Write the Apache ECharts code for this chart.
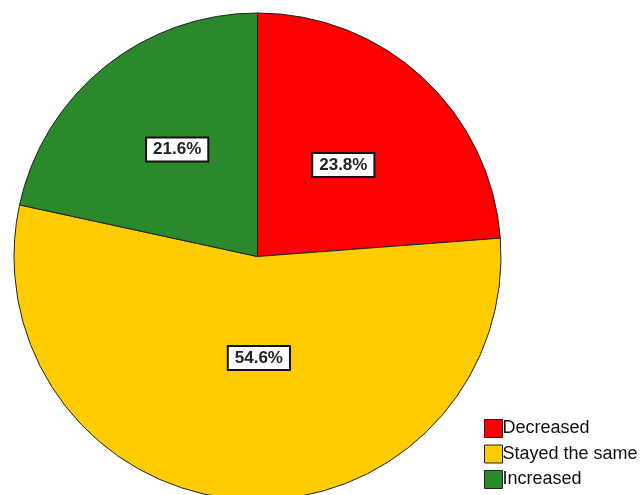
<!DOCTYPE html>
<html><head><meta charset="utf-8">
<script src="https://cdn.jsdelivr.net/npm/echarts@6/dist/echarts.min.js"></script>
<style>html,body{margin:0;padding:0;background:#fff}#c{width:641px;height:495px}</style>
</head><body><div id="c"></div>
<script>
const categories = ['Decreased', 'Stayed the same', 'Increased'];
const values = [23.8, 54.6, 21.6];
const colors = ['#ff0000', '#ffcc00', '#2a892a'];
const labelOffsets = [[1, 0], [10, -23], [-2, -10]];

const chart = echarts.init(document.getElementById('c'), null, {renderer: 'canvas'});
chart.setOption({
  animation: false,
  legend: {
    orient: 'vertical', left: 479, top: 414,
    itemWidth: 18, itemHeight: 18, itemGap: 6.5,
    icon: 'rect',
    textStyle: {fontFamily: 'Liberation Sans, Arial', fontSize: 18, color: '#111', padding: [0, 0, 0, -5]},
    itemStyle: {borderColor: '#222', borderWidth: 1},
    data: categories
  },
  series: [{
    type: 'pie',
    center: [257.5, 256.5],
    radius: 243.5,
    startAngle: 90,
    clockwise: true,
    label: {
      position: 'inside',
      formatter: p => p.value.toFixed(1) + '%',
      fontFamily: 'Liberation Sans, Arial', fontSize: 17, fontWeight: 'bold', color: '#222',
      backgroundColor: '#fff', borderColor: '#111', borderWidth: 2, padding: [3, 6, 2, 6]
    },
    labelLine: {show: false},
    itemStyle: {borderColor: '#222', borderWidth: 1},
    emphasis: {disabled: true},
    data: categories.map((c, i) => ({
      name: c, value: values[i],
      itemStyle: {color: colors[i]},
      label: {offset: labelOffsets[i]}
    }))
  }]
});
</script></body></html>
